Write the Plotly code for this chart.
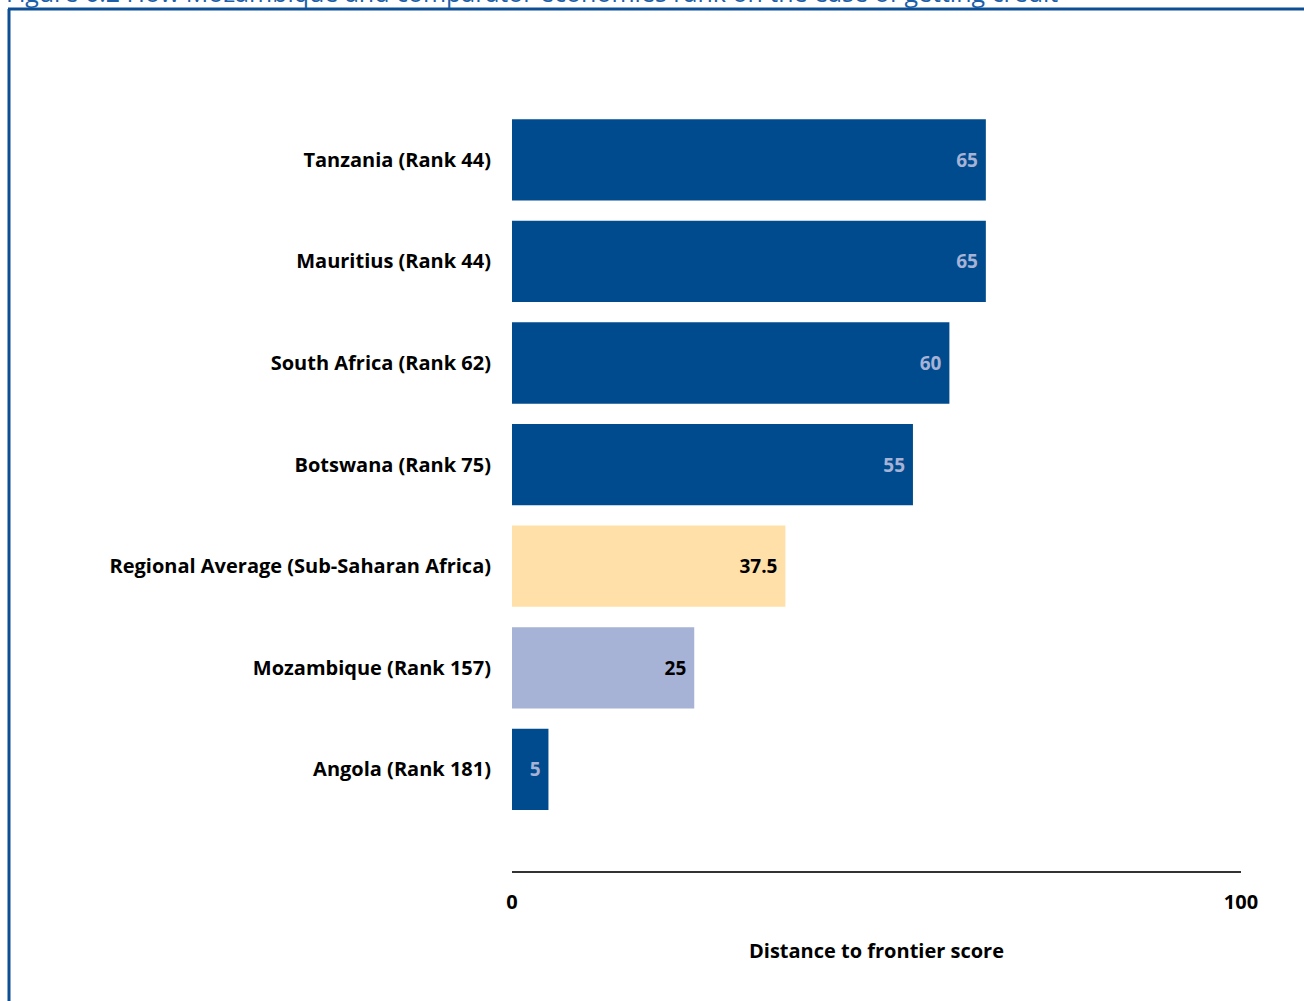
import plotly.graph_objects as go

categories = [
    "Tanzania (Rank 44)",
    "Mauritius (Rank 44)",
    "South Africa (Rank 62)",
    "Botswana (Rank 75)",
    "Regional Average (Sub-Saharan Africa)",
    "Mozambique (Rank 157)",
    "Angola (Rank 181)",
]
scores = [65, 65, 60, 55, 37.5, 25, 5]
score_labels = ["65", "65", "60", "55", "37.5", "25", "5"]
bar_colors = ["#004B8D", "#004B8D", "#004B8D", "#004B8D", "#FFE0A8", "#A6B2D6", "#004B8D"]
label_colors = ["#A6B2D6", "#A6B2D6", "#A6B2D6", "#A6B2D6", "#000000", "#000000", "#A6B2D6"]
x_ticks = [0, 100]
title_text = "Figure 6.2 How Mozambique and comparator economies rank on the ease of getting credit"
x_title = "Distance to frontier score"

W, H = 1304, 1001
L, R, T, B = 512, 63, 109, 130
pw = W - L - R
ph = H - T - B

def px_x(p):
    return (p - L) / pw

def px_y(p):
    return (H - B - p) / ph

FONT = "Open Sans"
FS = 20

fig = go.Figure(
    go.Bar(
        x=scores,
        y=categories,
        orientation="h",
        marker=dict(color=bar_colors, line=dict(width=0)),
        text=[t + "\u00a0" for t in score_labels],
        textposition="inside",
        insidetextanchor="end",
        textangle=0,
        constraintext="none",
        textfont=dict(family=FONT, size=19, color=label_colors, weight="bold"),
        hoverinfo="skip",
    )
)

fig.update_layout(
    width=W,
    height=H,
    margin=dict(l=L, r=R, t=T, b=B),
    paper_bgcolor="white",
    plot_bgcolor="white",
    bargap=0.2,
    showlegend=False,
    font=dict(family=FONT, color="#000000"),
)

fig.update_xaxes(
    range=[0, 100],
    tickvals=x_ticks,
    ticktext=[str(v) for v in x_ticks],
    showgrid=False,
    zeroline=False,
    showline=True,
    linecolor="#333333",
    linewidth=2,
    ticks="",
    ticklabelstandoff=12,
    tickfont=dict(family=FONT, size=FS, color="#000000", weight="bold"),
    title=dict(text=x_title, standoff=30,
               font=dict(family=FONT, size=FS, color="#000000", weight="bold")),
)

fig.update_yaxes(
    categoryorder="array",
    categoryarray=categories,
    range=[7.0, -0.5],
    showgrid=False,
    zeroline=False,
    showline=False,
    ticks="",
    ticklabelstandoff=20,
    tickfont=dict(family=FONT, size=FS, color="#000000", weight="bold"),
)

border = "#0D4F95"
fig.add_shape(type="line", xref="paper", yref="paper",
              x0=px_x(9), x1=px_x(9), y0=px_y(9), y1=px_y(H + 5),
              line=dict(color=border, width=3))
fig.add_shape(type="line", xref="paper", yref="paper",
              x0=px_x(8), x1=px_x(W + 5), y0=px_y(9), y1=px_y(9),
              line=dict(color=border, width=3))

fig.add_annotation(
    text=title_text, xref="paper", yref="paper",
    x=px_x(4), y=px_y(11), xanchor="left", yanchor="bottom",
    showarrow=False,
    font=dict(family=FONT, size=25, color="#1C5FA8"),
)

fig.write_html(
    "out.html",
    config={"displayModeBar": False},
    post_script="document.body.style.margin='0';document.body.style.overflow='hidden';",
)
